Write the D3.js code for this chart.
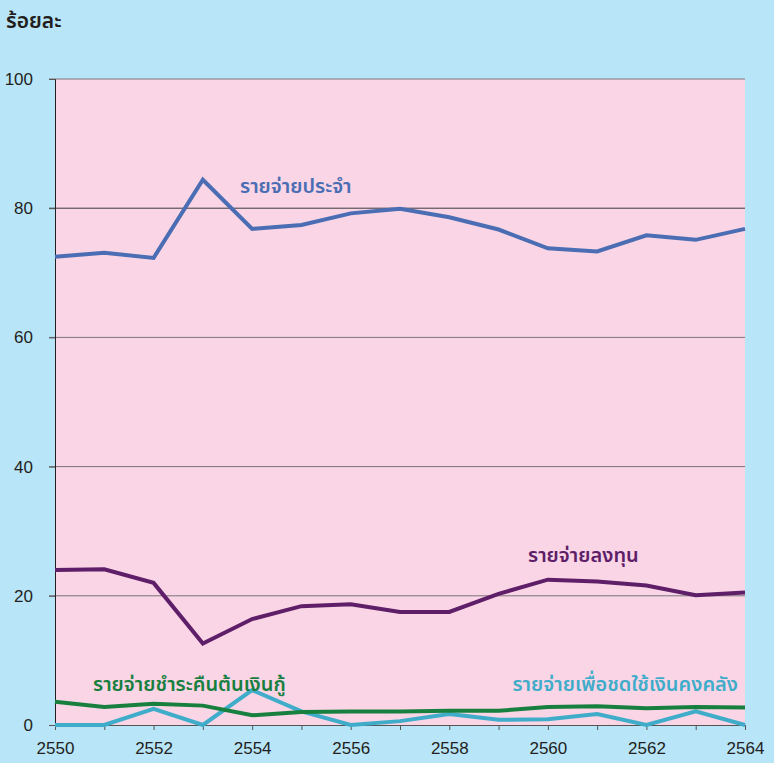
<!DOCTYPE html>
<html>
<head>
<meta charset="utf-8">
<script src="https://cdn.jsdelivr.net/npm/d3@7"></script>
<style>
  html, body { margin: 0; padding: 0; background: #b9e5f9; }
  svg { display: block; }
  .tick text { font-family: "Liberation Sans", Arial, sans-serif; font-size: 17px; fill: #231f20; }
  .lbl { font-family: "Noto Sans Thai", "Noto Sans", sans-serif; font-size: 20px; font-weight: 600; }
</style>
</head>
<body>
<svg id="chart" width="774" height="763"></svg>
<script>
'use strict';

const years = [2550, 2551, 2552, 2553, 2554, 2555, 2556, 2557, 2558, 2559, 2560, 2561, 2562, 2563, 2564];
const recurrent = [72.5, 73.1, 72.3, 84.4, 76.8, 77.4, 79.2, 79.9, 78.6, 76.7, 73.8, 73.3, 75.8, 75.1, 76.8];
const investment = [24.0, 24.1, 22.0, 12.6, 16.4, 18.4, 18.7, 17.5, 17.5, 20.3, 22.5, 22.2, 21.6, 20.1, 20.5];
const loanRepay = [3.6, 2.8, 3.3, 3.0, 1.5, 2.0, 2.1, 2.1, 2.2, 2.2, 2.8, 2.9, 2.6, 2.8, 2.7];
const treasury = [0, 0, 2.5, 0, 5.4, 2.1, 0, 0.6, 1.7, 0.8, 0.9, 1.7, 0, 2.1, 0];
const yTicks = [0, 20, 40, 60, 80, 100];
const xTicks = [2550, 2552, 2554, 2556, 2558, 2560, 2562, 2564];

const series = [
  { name: 'รายจ่ายประจำ', values: recurrent, color: '#4a6db3', lx: 240, ly: 193, anchor: 'start' },
  { name: 'รายจ่ายลงทุน', values: investment, color: '#5e1e68', lx: 528, ly: 562, anchor: 'start' },
  { name: 'รายจ่ายชำระคืนต้นเงินกู้', values: loanRepay, color: '#18803f', lx: 93, ly: 691, anchor: 'start' },
  { name: 'รายจ่ายเพื่อชดใช้เงินคงคลัง', values: treasury, color: '#3fadc9', lx: 738, ly: 691, anchor: 'end' }
];

const margin = { left: 55, right: 29, top: 79, bottom: 38 };
const svg = d3.select('#chart');
const width = +svg.attr('width');
const height = +svg.attr('height');

const x = d3.scaleLinear().domain([2550, 2564]).range([margin.left, width - margin.right]);
const y = d3.scaleLinear().domain([0, 100]).range([height - margin.bottom, margin.top]);

// plot background
svg.append('rect')
  .attr('x', x(2550)).attr('y', y(100))
  .attr('width', x(2564) - x(2550)).attr('height', y(0) - y(100))
  .attr('fill', '#f9d5e6');

// gridlines
svg.append('g')
  .selectAll('line')
  .data(yTicks.filter(d => d > 0))
  .join('line')
  .attr('x1', x(2550) - 6).attr('x2', x(2564))
  .attr('y1', d => y(d)).attr('y2', d => y(d))
  .attr('stroke', d => d === 80 ? '#3a3a3a' : '#7a7478')
  .attr('stroke-width', 1);

// y axis
const yAxis = svg.append('g')
  .attr('transform', `translate(${x(2550)},0)`)
  .call(d3.axisLeft(y).tickValues(yTicks).tickSize(6).tickPadding(16));
yAxis.select('.domain').attr('stroke', '#231f20');
yAxis.selectAll('.tick line').attr('stroke', '#555');

// x axis
const xAxis = svg.append('g')
  .attr('transform', `translate(0,${y(0)})`)
  .call(d3.axisBottom(x).tickValues(years).tickSize(5).tickPadding(8)
    .tickFormat(d => xTicks.includes(d) ? d : ''));
xAxis.select('.domain').attr('stroke', '#555');
xAxis.selectAll('.tick line').attr('stroke', '#555');
xAxis.selectAll('.tick text').attr('dy', '0.95em');

// lines
const line = d3.line()
  .x((d, i) => x(years[i]))
  .y(d => y(d));

svg.append('g')
  .selectAll('path')
  .data(series.slice().reverse())
  .join('path')
  .attr('d', d => line(d.values))
  .attr('fill', 'none')
  .attr('stroke', d => d.color)
  .attr('stroke-width', 4)
  .attr('stroke-linejoin', 'miter');

// series labels
svg.append('g')
  .selectAll('text')
  .data(series)
  .join('text')
  .attr('class', 'lbl')
  .attr('x', d => d.lx)
  .attr('y', d => d.ly)
  .attr('text-anchor', d => d.anchor)
  .attr('fill', d => d.color)
  .text(d => d.name);

// unit label
svg.append('text')
  .attr('class', 'lbl')
  .attr('x', 6).attr('y', 28)
  .style('font-size', '21px')
  .attr('fill', '#231f20')
  .text('ร้อยละ');
</script>
</body>
</html>
